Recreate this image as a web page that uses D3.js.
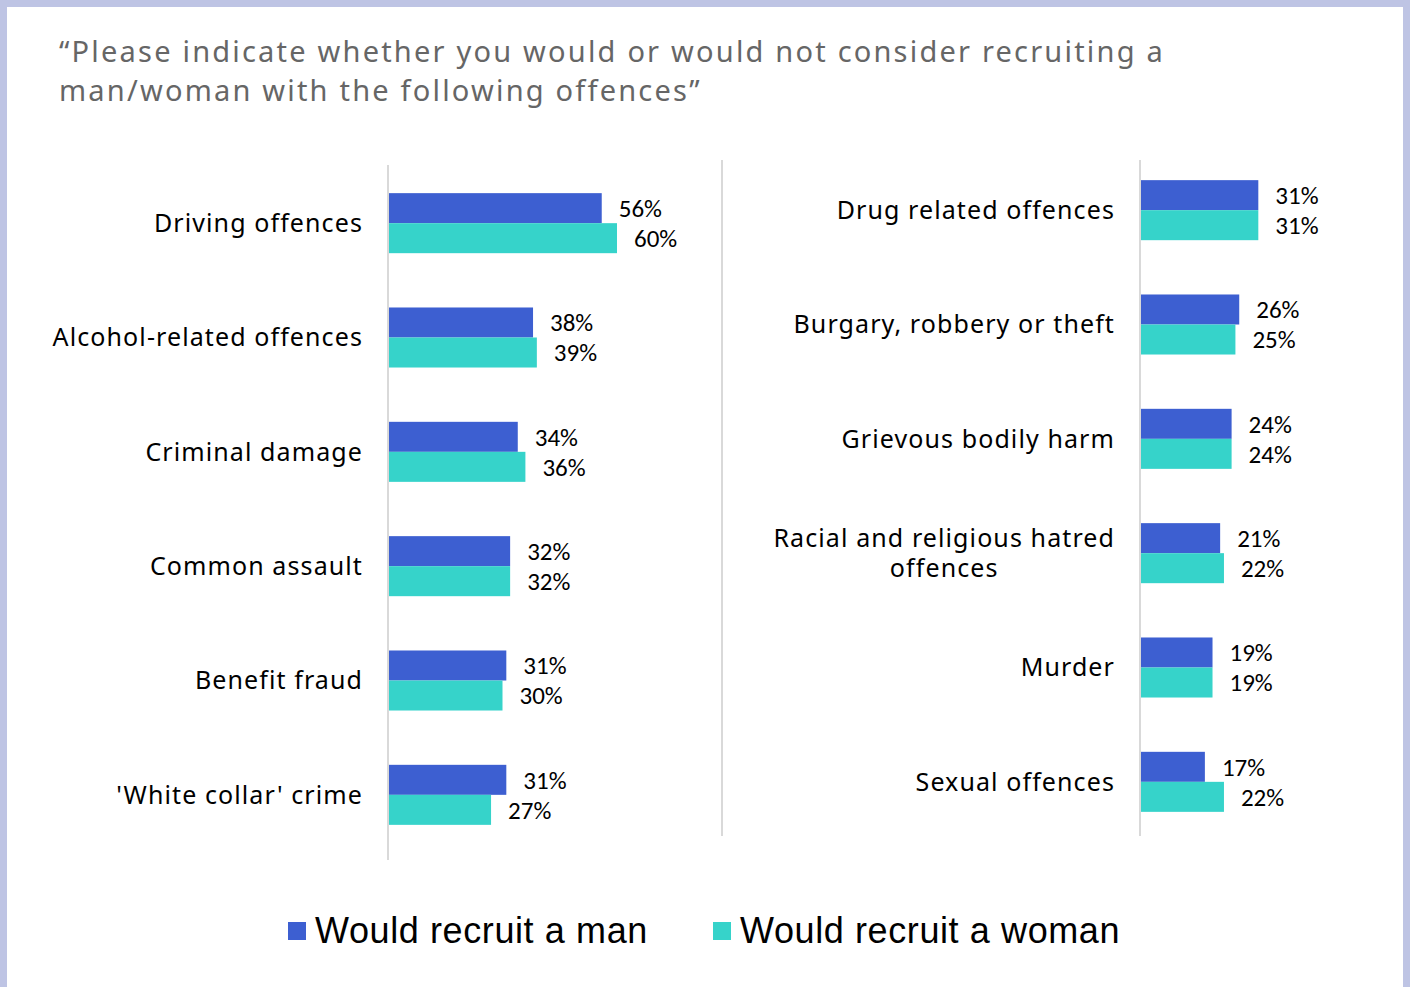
<!DOCTYPE html>
<html>
<head>
<meta charset="utf-8">
<script src="https://cdn.jsdelivr.net/npm/d3@7"></script>
<style>
  html, body { margin: 0; padding: 0; background: #bec4e4; }
  svg { display: block; }
</style>
</head>
<body>
<script>
// data
const leftCategories = ["Driving offences", "Alcohol-related offences", "Criminal damage",
  "Common assault", "Benefit fraud", "'White collar' crime"];
const leftMan = [56, 38, 34, 32, 31, 31];
const leftWoman = [60, 39, 36, 32, 30, 27];

const rightCategories = ["Drug related offences", "Burgary, robbery or theft", "Grievous bodily harm",
  "Racial and religious hatred offences", "Murder", "Sexual offences"];
const rightMan = [31, 26, 24, 21, 19, 17];
const rightWoman = [31, 25, 24, 22, 19, 22];

const seriesNames = ["Would recruit a man", "Would recruit a woman"];
const colors = ["#3d5fd1", "#36d3ca"];

const titleLines = [
  "\u201cPlease indicate whether you would or would not consider recruiting a",
  "man/woman with the following offences\u201d"
];

const width = 1410, height = 987;

const svg = d3.select("body").append("svg")
    .attr("width", width)
    .attr("height", height);

// white card
svg.append("rect")
    .attr("x", 7).attr("y", 7)
    .attr("width", 1396).attr("height", height - 7)
    .attr("fill", "#ffffff");

// title
svg.append("g")
    .selectAll("text")
    .data(titleLines)
    .enter()
    .append("text")
    .attr("x", 59)
    .attr("y", (d, i) => 62 + i * 39)
    .attr("font-family", "'Noto Sans', sans-serif")
    .attr("font-size", 29)
    .attr("letter-spacing", 2.2)
    .attr("fill", "#666666")
    .text(d => d);

// divider between the two panels
svg.append("line")
    .attr("x1", 722).attr("x2", 722)
    .attr("y1", 160).attr("y2", 836)
    .attr("stroke", "#d9d9d9").attr("stroke-width", 2);

const drawPanel = (cfg) => {
  const rows = cfg.categories.map((c, i) => ({ cat: c, values: [cfg.man[i], cfg.woman[i]] }));

  const xScale = d3.scaleLinear()
      .domain([0, 60])
      .range([cfg.x0, cfg.x0 + 229]);

  const yScale = d3.scaleBand()
      .domain(cfg.categories)
      .range(cfg.yRange)
      .paddingInner(0.475)
      .paddingOuter(0.2375);

  const subScale = d3.scaleBand()
      .domain([0, 1])
      .range([0, yScale.bandwidth()]);

  const g = svg.append("g");

  const groups = g.selectAll("g.row")
      .data(rows)
      .enter()
      .append("g")
      .attr("class", "row")
      .attr("transform", d => "translate(0," + yScale(d.cat) + ")");

  groups.selectAll("rect")
      .data(d => d.values)
      .enter()
      .append("rect")
      .attr("x", xScale(0))
      .attr("y", (d, i) => subScale(i))
      .attr("width", d => xScale(d) - xScale(0))
      .attr("height", subScale.bandwidth())
      .attr("fill", (d, i) => colors[i]);

  groups.selectAll("text.val")
      .data(d => d.values)
      .enter()
      .append("text")
      .attr("class", "val")
      .attr("x", d => xScale(d) + 17)
      .attr("y", (d, i) => subScale(i) + subScale.bandwidth() / 2)
      .attr("dy", "0.35em")
      .attr("font-family", "Carlito, 'Liberation Sans', sans-serif")
      .attr("font-size", 25)
      .attr("fill", "#000")
      .text(d => d + "%");

  // category labels
  groups.each(function (d) {
    const cy = yScale.bandwidth() / 2;
    const lines = cfg.wrap[d.cat] || [d.cat];
    const t = d3.select(this).append("text")
        .attr("font-family", "'Noto Sans', sans-serif")
        .attr("font-size", 25)
        .attr("letter-spacing", 1.1)
        .attr("fill", "#000");
    if (lines.length === 1) {
      t.attr("x", cfg.labelX).attr("y", cy).attr("dy", "0.35em")
          .attr("text-anchor", "end").text(lines[0]);
    } else {
      t.text(lines[0]);
      const w = t.node().getComputedTextLength();
      const cx = cfg.labelX - w / 2;
      t.text(null).attr("text-anchor", "middle");
      lines.forEach((ln, i) => {
        t.append("tspan")
            .attr("x", cx)
            .attr("y", cy + (i - (lines.length - 1) / 2) * 30)
            .attr("dy", "0.35em")
            .text(ln);
      });
    }
  });

  // axis line
  g.append("line")
      .attr("x1", cfg.x0).attr("x2", cfg.x0)
      .attr("y1", cfg.axisY[0]).attr("y2", cfg.axisY[1])
      .attr("stroke", "#d9d9d9").attr("stroke-width", 2);
};

drawPanel({
  categories: leftCategories, man: leftMan, woman: leftWoman,
  x0: 388, yRange: [166, 852], axisY: [165, 860], labelX: 363, wrap: {}
});

drawPanel({
  categories: rightCategories, man: rightMan, woman: rightWoman,
  x0: 1140, yRange: [153, 839], axisY: [160, 836], labelX: 1115,
  wrap: { "Racial and religious hatred offences": ["Racial and religious hatred", "offences"] }
});

// legend
const legend = svg.append("g");
const legendX = [288, 713];
seriesNames.forEach((name, i) => {
  legend.append("rect")
      .attr("x", legendX[i]).attr("y", 922)
      .attr("width", 18).attr("height", 18)
      .attr("fill", colors[i]);
  legend.append("text")
      .attr("x", legendX[i] + 27)
      .attr("y", 943)
      .attr("font-family", "'Liberation Sans', sans-serif")
      .attr("font-size", 36)
      .attr("letter-spacing", 0.6)
      .attr("fill", "#000")
      .text(name);
});
</script>
</body>
</html>
